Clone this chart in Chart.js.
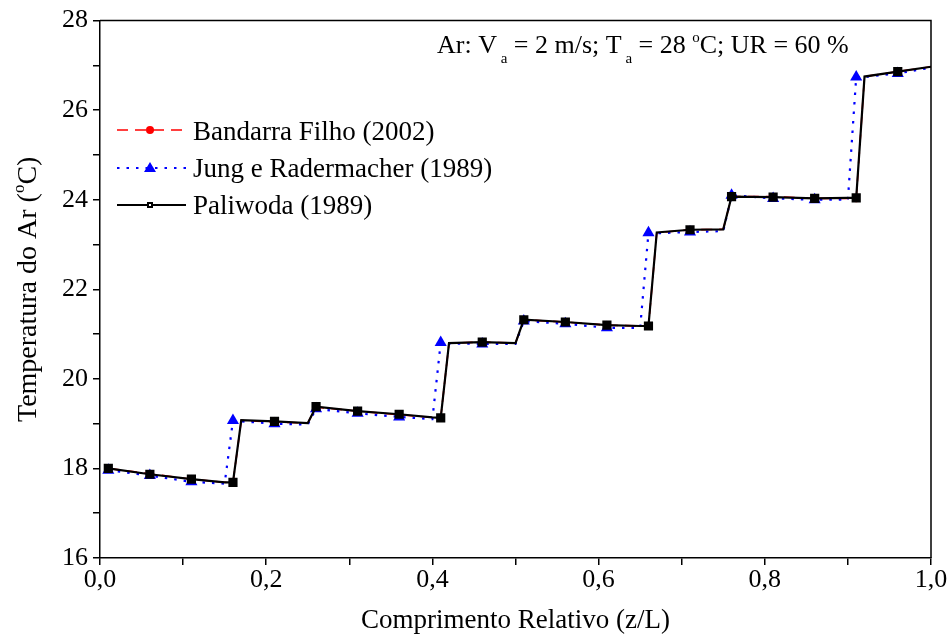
<!DOCTYPE html>
<html>
<head>
<meta charset="utf-8">
<script src="https://cdn.jsdelivr.net/npm/chart.js@4.4.1/dist/chart.umd.min.js"></script>
<style>
html,body{margin:0;padding:0;background:#fff;}
#wrap{width:950px;height:635px;position:relative;}
</style>
</head>
<body>
<div id="wrap"><canvas id="c" width="950" height="635"></canvas></div>
<script>
// ---- data ----
const xValues = [0.01,0.06,0.11,0.15,0.16,0.17,0.21,0.25,0.26,0.31,0.36,0.40,0.41,0.42,0.46,0.50,0.51,0.56,0.61,0.65,0.66,0.67,0.71,0.75,0.76,0.81,0.86,0.90,0.91,0.92,0.96,1.00];
const bandarra = [18.00,17.88,17.76,17.69,17.68,19.07,19.04,19.01,19.37,19.28,19.20,19.14,19.13,20.80,20.82,20.80,21.32,21.27,21.20,21.18,21.17,23.26,23.33,23.34,24.07,24.07,24.03,24.03,24.02,26.75,26.86,26.97];
const jung     = [17.96,17.84,17.70,17.66,19.07,19.05,19.00,18.98,19.33,19.23,19.15,19.10,20.81,20.79,20.78,20.78,21.29,21.23,21.14,21.14,23.26,23.25,23.28,23.30,24.10,24.03,24.00,24.00,26.74,26.74,26.82,26.95];
const paliwoda = [18.00,17.87,17.76,17.69,17.69,19.08,19.05,19.01,19.38,19.28,19.21,19.14,19.13,20.80,20.82,20.80,21.32,21.27,21.20,21.18,21.18,23.27,23.33,23.34,24.07,24.06,24.03,24.04,24.04,26.75,26.86,26.97];
const seriesNames = ['Bandarra Filho (2002)','Jung e Radermacher (1989)','Paliwoda (1989)'];
const xMin = 0, xMax = 1, yMin = 16, yMax = 28;
const annotationParts = [['Ar: V',0],[' a',1],[' = 2 m/s; T',0],[' a',1],[' = 28 ',0],['o',-1],['C; UR = 60 %',0]];
const yTitleParts = [['Temperatura do Ar (',0],['o',-1],['C)',0]];
const xTitle = 'Comprimento Relativo (z/L)';

const FONT = '"Liberation Serif", "Times New Roman", serif';
const pts = arr => arr.map((v,i)=>({x:xValues[i], y:v}));
const markerAt = ctx => {
  const r = ctx.raw; if(!r) return 0;
  return (Math.round(r.x*100) % 5 === 1) ? 1 : 0;
};

const styles = [
  {color:'#ff0000', dash:[11,7], width:1.6, point:'circle', r:3.5, order:3},
  {color:'#0000ff', dash:[2.5,7], width:2.2, point:'triangle', r:7, order:2},
  {color:'#000000', dash:[], width:2.2, point:'rect', r:6.5, order:1}
];
const datas = [bandarra, jung, paliwoda];

function drawRich(ctx, parts, x, y, size, small){
  let cx = x;
  parts.forEach(([t,mode])=>{
    if(mode===0){ ctx.font = size+'px '+FONT; ctx.fillText(t,cx,y); cx += ctx.measureText(t).width; }
    else { ctx.font = small+'px '+FONT; const dy = mode===1? size*0.38 : -size*0.42; ctx.fillText(t,cx,y+dy); cx += ctx.measureText(t).width; }
  });
  return cx - x;
}
function richWidth(ctx, parts, size, small){
  let w=0; parts.forEach(([t,mode])=>{ctx.font=(mode===0?size:small)+'px '+FONT; w+=ctx.measureText(t).width;}); return w;
}

const extras = {
  id:'extras',
  afterDatasetsDraw(chart){
    const ctx = chart.ctx, a = chart.chartArea;
    ctx.save();
    // frame
    ctx.strokeStyle='#000'; ctx.lineWidth=1.5;
    ctx.beginPath(); ctx.moveTo(a.left,a.top); ctx.lineTo(a.right,a.top); ctx.lineTo(a.right,a.bottom); ctx.stroke();
    // annotation
    ctx.fillStyle='#000'; ctx.textBaseline='alphabetic'; ctx.textAlign='left';
    drawRich(ctx, annotationParts, 437, 53, 26, 15);
    // legend
    const ly = [130,168,205];
    const by = [140,177,214];
    styles.forEach((s,i)=>{
      ctx.save();
      ctx.strokeStyle=s.color; ctx.lineWidth=s.width; ctx.setLineDash(s.dash);
      ctx.beginPath(); ctx.moveTo(117,ly[i]); ctx.lineTo(186,ly[i]); ctx.stroke();
      ctx.setLineDash([]);
      ctx.fillStyle=s.color;
      const cx=150, cy=ly[i];
      if(s.point==='circle'){ctx.beginPath();ctx.arc(cx,cy,4,0,Math.PI*2);ctx.fill();}
      else if(s.point==='triangle'){ctx.beginPath();ctx.moveTo(cx,cy-6);ctx.lineTo(cx+6,cy+4);ctx.lineTo(cx-6,cy+4);ctx.closePath();ctx.fill();}
      else {ctx.fillRect(cx-3,cy-3,6,6); ctx.fillStyle='#fff'; ctx.fillRect(cx-1,cy-1,2,2);}
      ctx.fillStyle='#000'; ctx.font='27px '+FONT; ctx.textBaseline='alphabetic';
      ctx.fillText(seriesNames[i],193,by[i]);
      ctx.restore();
    });
    // y title
    ctx.save();
    ctx.translate(36, (a.top+a.bottom)/2); ctx.rotate(-Math.PI/2);
    ctx.textBaseline='alphabetic'; ctx.fillStyle='#000';
    const w = richWidth(ctx, yTitleParts, 28, 17);
    drawRich(ctx, yTitleParts, -w/2, 0, 28, 17);
    ctx.restore();
    ctx.restore();
  }
};

new Chart(document.getElementById('c'), {
  type:'line',
  data:{
    datasets: datas.map((d,i)=>({
      label: seriesNames[i],
      data: pts(d),
      borderColor: styles[i].color,
      backgroundColor: styles[i].color,
      borderWidth: styles[i].width,
      borderDash: styles[i].dash,
      pointStyle: styles[i].point,
      pointRadius: c => markerAt(c)*styles[i].r,
      pointBorderWidth: 0,
      pointBackgroundColor: styles[i].color,
      pointHoverRadius: 0,
      tension: 0,
      fill:false,
      order: styles[i].order
    }))
  },
  options:{
    responsive:false, animation:false, events:[],
    layout:{padding:{left:0,right:19,top:20,bottom:0}},
    plugins:{legend:{display:false}, tooltip:{enabled:false}},
    scales:{
      x:{
        type:'linear', min:xMin, max:xMax,
        afterFit: s => { s.height = 77; },
        ticks:{stepSize:0.1, color:'#000', font:{family:FONT,size:26}, padding:0, maxRotation:0,
          callback:(v)=>{ const k=Math.round(v*10); return k%2===0 ? (k/10).toFixed(1).replace('.',',') : ''; }},
        grid:{drawOnChartArea:false, drawTicks:true, tickLength:7, color:'#000', lineWidth:1.5},
        border:{display:true, color:'#000', width:1.5},
        title:{display:true, text:xTitle, color:'#000', font:{family:FONT,size:27}, padding:{top:0,bottom:-2}}
      },
      y:{
        type:'linear', min:yMin, max:yMax,
        afterFit: s => { s.width = 100; },
        ticks:{stepSize:1, color:'#000', font:{family:FONT,size:26}, padding:5,
          callback:(v)=> (Math.round(v)%2===0 ? String(v) : '')},
        grid:{drawOnChartArea:false, drawTicks:true, tickLength:7, color:'#000', lineWidth:1.5},
        border:{display:true, color:'#000', width:1.5}
      }
    }
  },
  plugins:[extras]
});
</script>
</body>
</html>
